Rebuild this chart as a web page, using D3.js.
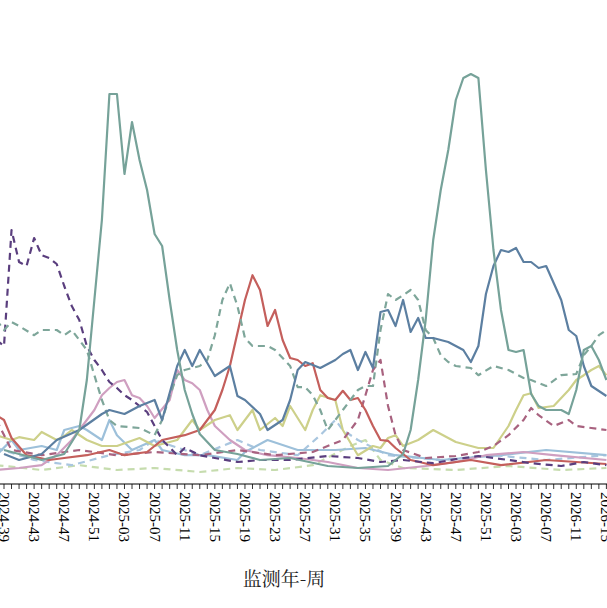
<!DOCTYPE html><html><head><meta charset="utf-8"><script src="https://cdn.jsdelivr.net/npm/d3@7"></script>
<style>body{margin:0;background:#fff}</style></head><body><svg id="c" width="607" height="608"></svg>
<script>
// week index 0 = 2024-39
const weekLabels=[];
(function(){let y=2024,w=38;for(let i=-1;i<=82;i++){weekLabels.push({i:i,label:y+"-"+String(w).padStart(2,"0")});w++;if(w>52){w=1;y++;}}})();
// series: [weekIndex, value]
const tealSolid=[[0,7],[2,6],[5,4.5],[8,6],[10,12],[11,24.5],[12,44.5],[13,64.5],[14,96],[15,96],[16,76],[17,89],[18,79.5],[19,72],[20,61],[21,58],[22,44.5],[23,32],[24,22],[25,16],[26,11],[28,7],[31,6],[34,4.5],[38,5],[43,3],[47,2.5],[51,3],[53,6],[54,12],[55,24.5],[56,39.5],[57,59.5],[58,72],[59,82],[60,94.5],[61,100],[62,101],[63,100],[64,77],[65,57],[66,42],[67,32],[68,31.5],[69,32],[70,21],[71,18],[72,17],[74,17],[75,16],[76,22],[77,32],[78,33],[79,29.5],[80,24.5]];
const blueSolid=[[0,6],[2,4.5],[5,6],[7,9.5],[10,12],[13,16],[14,17],[16,16],[18,18],[20,19.5],[21,14.5],[23,28],[24,32],[25,28],[26,32],[28,25.5],[30,28],[31,20.5],[32,19.5],[34,16],[35,12],[37,14.5],[38,19.5],[39,27],[40,29],[42,27.5],[44,29.5],[45,31],[46,32],[47,27],[48,31.5],[49,27.5],[50,41.5],[51,42],[52,38],[53,44.5],[54,36.5],[55,40],[56,35],[57,35],[58,34.5],[59,34],[60,33],[61,32],[62,29],[63,33],[64,46],[65,53],[66,57],[67,56.5],[68,57.5],[69,54],[70,54],[71,52.5],[72,53],[74,44.5],[75,37],[76,35.5],[77,28],[78,23],[80,20.5]];
const tealDash=[[-1,39.5],[0,37],[1,39],[2,38],[4,35.7],[5,37],[7,37],[8,35.7],[9,37],[10,34.5],[11,32],[12,25.7],[13,19.5],[14,14.5],[15,13],[18,12.5],[20,10.7],[21,14.5],[22,20.5],[23,25.7],[24,27],[26,28],[27,29.5],[28,35.7],[29,44.5],[30,48.7],[31,43],[32,35],[33,33],[35,33],[36,32],[38,28],[39,22.7],[40,22.7],[41,20.7],[42,17],[43,12],[44,14.5],[45,17],[46,19.5],[47,22],[48,23],[49,23],[50,37],[51,46],[52,44.5],[53,45.7],[54,47],[55,44.5],[56,37],[57,35],[58,30.7],[59,29],[60,28],[62,27.5],[63,25.7],[65,28],[67,27],[69,25],[70,24.5],[72,23],[74,25.7],[76,26],[77,30.7],[78,33],[79,35.7],[80,37]];
const purpleDash=[[-1,34.5],[0,33],[1,62],[2,54],[3,53],[4,60],[5,55.7],[6,55],[7,53.5],[8,48],[9,43],[10,39.5],[11,33],[12,29.5],[13,27],[14,24],[15,22.5],[16,20.7],[17,19.5],[18,18],[19,16.5],[20,13],[21,9.5],[22,7.7],[23,5.7],[24,7.5],[26,5.7],[28,5],[31,4],[34,4.5],[38,4.5],[43,5.5],[47,5],[50,4],[53,4.5],[57,3.7],[60,4.7],[63,5.5],[67,4.5],[70,3.7],[74,3],[77,4],[80,3.2]];
const redSolid=[[-1,15.7],[0,14.5],[1,10],[3,5.7],[6,4.5],[8,5],[11,5.7],[14,7],[16,5.7],[19,6.5],[21,9.5],[24,10.7],[26,12],[27,14.5],[28,17],[29,22],[30,28],[32,44.5],[33,50.7],[34,47],[35,38],[36,42],[37,34.5],[38,30],[39,29.5],[40,28],[41,28.7],[42,22],[43,20],[44,19.5],[45,21.8],[46,19.5],[47,20],[48,17],[49,13],[50,9.5],[51,9.3],[52,7.5],[54,4.5],[57,3.2],[62,4.5],[66,3.2],[72,4.5],[80,3.5]];
const pinkSolid=[[-1,2],[2,2.5],[5,3.2],[7,5.7],[9,9.5],[10,12],[11,14.5],[12,17],[13,20.7],[14,22.5],[15,24],[16,24.5],[17,20.7],[18,20],[19,18],[20,15],[22,19.5],[23,27],[24,24.5],[25,23.7],[26,22],[27,17],[28,13],[30,9.5],[32,7],[35,5.7],[39,5],[43,4],[47,2.5],[51,2],[56,3],[60,4],[64,5.7],[69,6.5],[73,5.7],[80,4.5]];
const yellowSolid=[[-1,10.7],[1,9.5],[2,10.2],[4,9.5],[5,11.5],[7,9.5],[8,10.5],[9,12],[11,9.5],[13,8],[15,8],[18,10],[20,8],[23,9.5],[25,14.5],[26,12],[28,14.5],[30,15.7],[31,12],[33,17],[34,12],[36,15],[37,13],[38,18],[40,12],[41,17],[42,20.7],[44,19.5],[45,12],[47,5.7],[49,8],[50,7.5],[51,10],[52,10.7],[53,8],[55,9.5],[57,12],[60,9],[63,7.5],[65,7.5],[67,13],[68,17],[69,20.7],[70,21.2],[71,17.5],[73,18],[75,22],[76,24.5],[77,25.7],[78,27],[79,28],[80,25.7]];
const mauveDash=[[-1,14.5],[1,7],[5,5.7],[10,7],[15,5.7],[20,6.5],[26,5.7],[31,7],[36,5.7],[41,6.5],[45,9.5],[47,14.5],[48,20.7],[49,27],[50,29.5],[51,18],[52,10.7],[53,7],[56,5],[60,5.5],[63,6.5],[65,8],[67,10.7],[69,14.5],[70,17.5],[71,15.7],[73,13],[75,14.5],[76,13],[78,12.5],[80,12]];
const lightBlueSolid=[[-1,5.7],[1,9.5],[2,7],[5,8],[7,7],[8,12],[10,13],[11,12],[13,9.5],[14,14.5],[15,10.7],[17,7],[20,9.5],[21,7],[24,5.7],[27,5.7],[31,4.5],[32,6.5],[35,9.5],[39,7],[44,7],[48,7.5],[52,5.7],[58,4.5],[66,5.7],[72,7],[80,5.7]];
const lightBlueDash=[[-1,7.5],[4,4.5],[9,3.2],[14,5.7],[18,7],[20,9.5],[26,5.7],[31,9.5],[34,7],[39,5.7],[42,10.7],[44,14.5],[45,12],[47,9.5],[51,5.7],[58,4.5],[65,5.7],[72,4.5],[80,5.7]];
const lightGreenDash=[[-1,3.2],[5,2],[10,3.2],[15,2],[20,2.5],[26,1.5],[31,2.5],[36,2],[41,3.2],[46,8],[48,9.5],[50,4.5],[53,2.5],[60,2],[67,3],[74,2],[80,2.5]];

const series=[
 {d:lightGreenDash,c:"#c6dcae",dash:true},
 {d:lightBlueDash,c:"#a9c6df",dash:true},
 {d:lightBlueSolid,c:"#9dc0da",dash:false},
 {d:pinkSolid,c:"#cf9fc0",dash:false},
 {d:yellowSolid,c:"#cdd08a",dash:false},
 {d:mauveDash,c:"#a8627f",dash:true},
 {d:redSolid,c:"#c45f5c",dash:false},
 {d:purpleDash,c:"#5a3e7e",dash:true},
 {d:tealDash,c:"#7ea69a",dash:true},
 {d:blueSolid,c:"#5c7fa1",dash:false},
 {d:tealSolid,c:"#76a299",dash:false}
];
const svg=d3.select("#c");
const x=d3.scaleLinear().domain([0,80]).range([4,606.4]);
const y=d3.scaleLinear().domain([0,105]).range([478,58]);
svg.append("clipPath").attr("id","cp").append("rect").attr("x",0).attr("y",0).attr("width",607).attr("height",482);
const g=svg.append("g").attr("clip-path","url(#cp)");
const line=d3.line().x(d=>x(d[0])).y(d=>y(d[1]));
series.forEach(s=>{g.append("path").attr("d",line(s.d)).attr("fill","none").attr("stroke",s.c).attr("stroke-width",2.2).attr("stroke-linejoin","round").attr("stroke-dasharray",s.dash?"7,5":null);});
const ax=svg.append("g").attr("transform","translate(0,484)");
ax.append("line").attr("x1",0).attr("x2",607).attr("stroke","#000").attr("stroke-width",1.2);
weekLabels.forEach(w=>{const px=x(w.i);if(px<-2||px>612)return;
 ax.append("line").attr("x1",px).attr("x2",px).attr("y1",0).attr("y2",5).attr("stroke","#000").attr("stroke-width",0.8);
 if(w.i%4===0){ax.append("text").attr("transform",`translate(${px-5},8) rotate(90)`).attr("font-family","Liberation Serif").attr("font-size",15).attr("fill","#000").text(w.label);}
});
svg.append("text").attr("x",284).attr("y",586).attr("text-anchor","middle").attr("font-family","Noto Serif CJK SC, Noto Sans CJK SC").attr("font-size",19).attr("fill","#222").text("监测年-周");
</script></body></html>
